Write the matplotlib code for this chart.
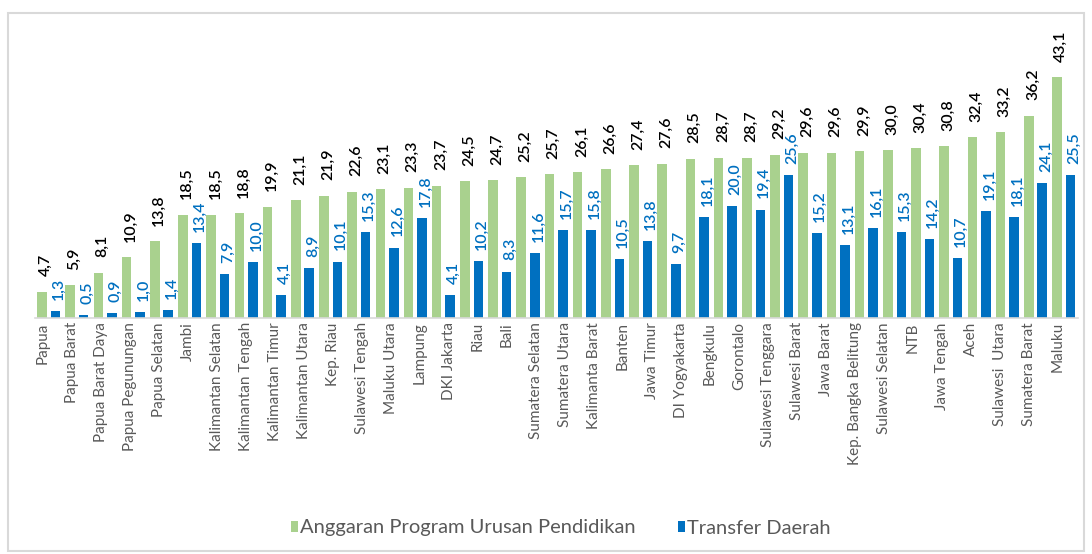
import numpy as np
import matplotlib
matplotlib.use("Agg")
import matplotlib.pyplot as plt
from matplotlib.patches import Patch, Rectangle

# ---- data ----
categories = ["Papua", "Papua Barat", "Papua Barat Daya", "Papua Pegunungan", "Papua Selatan",
              "Jambi", "Kalimantan Selatan", "Kalimantan Tengah", "Kalimantan Timur",
              "Kalimantan Utara", "Kep. Riau", "Sulawesi Tengah", "Maluku Utara", "Lampung",
              "DKI Jakarta", "Riau", "Bali", "Sumatera Selatan", "Sumatera Utara",
              "Kalimanta Barat", "Banten", "Jawa Timur", "DI Yogyakarta", "Bengkulu",
              "Gorontalo", "Sulawesi Tenggara", "Sulawesi Barat", "Jawa Barat",
              "Kep. Bangka Belitung", "Sulawesi Selatan", "NTB", "Jawa Tengah", "Aceh",
              "Sulawesi  Utara", "Sumatera Barat", "Maluku"]

anggaran = [4.7, 5.9, 8.1, 10.9, 13.8, 18.5, 18.5, 18.8, 19.9, 21.1, 21.9, 22.6, 23.1,
            23.3, 23.7, 24.5, 24.7, 25.2, 25.7, 26.1, 26.6, 27.4, 27.6, 28.5, 28.7, 28.7,
            29.2, 29.6, 29.6, 29.9, 30.0, 30.4, 30.8, 32.4, 33.2, 36.2, 43.1]
transfer = [1.3, 0.5, 0.9, 1.0, 1.4, 13.4, 7.9, 10.0, 4.1, 8.9, 10.1, 15.3, 12.6,
            17.8, 4.1, 10.2, 8.3, 11.6, 15.7, 15.8, 10.5, 13.8, 9.7, 18.1, 20.0, 19.4,
            25.6, 15.2, 13.1, 16.1, 15.3, 14.2, 10.7, 19.1, 18.1, 24.1, 25.5]

series_names = ["Anggaran Program Urusan Pendidikan", "Transfer Daerah"]

GREEN = "#A9D18E"
BLUE = "#0070C0"
GRAY_TXT = "#595959"
FONT = ["Lato", "DejaVu Sans"]

plt.rcParams["font.family"] = FONT

W, H = 1092, 554
fig = plt.figure(figsize=(W / 100, H / 100), dpi=100)

# outer chart border
fig.patches.append(Rectangle((8 / W, 3 / H), (1084 - 8) / W, (541 - 3) / H,
                             transform=fig.transFigure, fill=False,
                             edgecolor="#D9D9D9", linewidth=1.5))

ax = fig.add_axes([34.65 / W, 236 / H, 1043.15 / W, 298 / H])

n = len(anggaran)
x = np.arange(n)
off = 0.24
bw = 0.34
ax.bar(x - off, anggaran, width=bw, color=GREEN, zorder=2)
ax.bar(x + off, transfer, width=bw, color=BLUE, zorder=2)

def fmt(v):
    return f"{v:.1f}".replace(".", ",")

for xi, v in zip(x, anggaran):
    ax.annotate(fmt(v), xy=(xi - off, v), xytext=(3, 11), textcoords="offset points",
                rotation=90, ha="center", va="bottom", fontsize=11.5,
                fontweight="semibold", color="black")
for xi, v in zip(x, transfer):
    ax.annotate(fmt(v), xy=(xi + off, v), xytext=(2.5, 8), textcoords="offset points",
                rotation=90, ha="center", va="bottom", fontsize=11.5,
                fontweight="semibold", color=BLUE)

ax.set_xlim(-0.5, n - 0.5)
ax.set_ylim(0, 298 / 5.59)

label_pos = np.linspace(-0.2, n - 1.2, len(categories))
ax.set_xticks(label_pos)
ax.set_xticklabels(categories, rotation=90, fontsize=11, color=GRAY_TXT)
ax.tick_params(axis="x", length=0, pad=3)
ax.set_yticks([])
for s in ["left", "right", "top"]:
    ax.spines[s].set_visible(False)
ax.spines["bottom"].set_color("#D9D9D9")
ax.spines["bottom"].set_linewidth(1.2)
ax.patch.set_alpha(0)

handles = [Patch(facecolor=GREEN), Patch(facecolor=BLUE)]
fig.legend(handles, series_names, loc="center", bbox_to_anchor=(561 / W, 1 - 528 / H),
           ncol=2, frameon=False, handlelength=0.35, handleheight=0.45,
           handletextpad=0.1, columnspacing=2.1, fontsize=14.5,
           labelcolor=GRAY_TXT)

fig.savefig("out.png", dpi=100)
